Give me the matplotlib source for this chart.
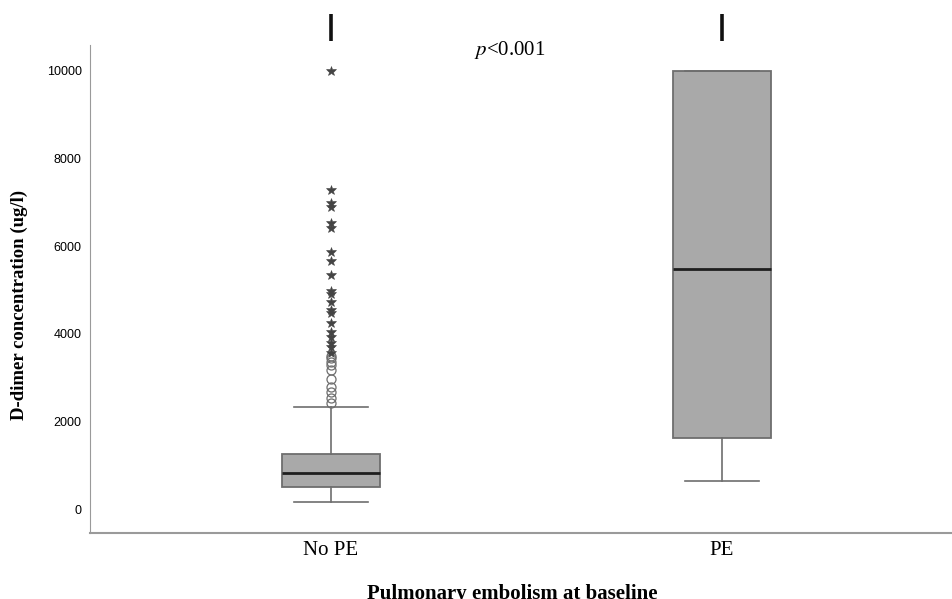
import matplotlib.pyplot as plt

plt.rcParams["mathtext.fontset"] = "stix"

# box summary (ug/l)
groups = ["No PE", "PE"]
q1 = [500, 1620]
med = [820, 5480]
q3 = [1255, 10000]
whislo = [160, 640]
whishi = [2330, 10000]

# No PE outliers: circles (mild) and stars (extreme)
mild = [3490, 3440, 3365, 3290, 3175, 2960, 2795, 2680, 2530, 2430]
extreme = [10000, 7280, 6980, 6900, 6540, 6410, 5860, 5670, 5340, 4985, 4910,
           4735, 4545, 4470, 4240, 4050, 3935, 3780, 3705, 3555]

serif = ["Liberation Serif", "DejaVu Serif"]
narrow = ["Liberation Sans Narrow", "Liberation Sans", "DejaVu Sans"]

fig = plt.figure(figsize=(9.52, 5.99), dpi=100)
ax = fig.add_axes([0.0945, 0.110, 0.9055, 0.815])

stats = []
for i in range(len(groups)):
    stats.append({"q1": q1[i], "med": med[i], "q3": q3[i],
                  "whislo": whislo[i], "whishi": whishi[i], "fliers": []})

ax.bxp(stats, positions=[0, 1], widths=0.25, patch_artist=True,
       showfliers=False,
       boxprops=dict(facecolor="#a9a9a9", edgecolor="#6e6e6e", linewidth=1.3),
       medianprops=dict(color="#1e1e1e", linewidth=2),
       whiskerprops=dict(color="#6e6e6e", linewidth=1.2),
       capprops=dict(color="#6e6e6e", linewidth=1.2),
       capwidths=0.19)

ax.plot([0] * len(mild), mild, linestyle="none", marker="o", markersize=6.5,
        markerfacecolor="none", markeredgecolor="#6e6e6e", markeredgewidth=0.9)
ax.plot([0] * len(extreme), extreme, linestyle="none", marker="*", markersize=7,
        color="#444444", markeredgewidth=0.4)

# significance bracket legs sticking out above the plot
for x in [0, 1]:
    ax.plot([x, x], [10685, 11300], color="#111111", linewidth=2.6,
            clip_on=False, solid_capstyle="butt")
ax.text(0.458, 10480, r"$p$<0.001", ha="center", va="center",
        fontsize=15, family=serif)

ax.set_xlim(-0.616, 1.588)
ax.set_ylim(-548, 10594)
ax.set_xticks([0, 1])
ax.set_xticklabels(groups, family=serif, fontsize=15)
ax.set_yticks([0, 2000, 4000, 6000, 8000, 10000])
ax.set_yticklabels(["0", "2000", "4000", "6000", "8000", "10000"],
                   family=narrow, fontsize=9)
ax.tick_params(axis="y", length=0, pad=6)
ax.tick_params(axis="x", length=0, pad=6)

for s in ["top", "right"]:
    ax.spines[s].set_visible(False)
ax.spines["left"].set_color("#9a9a9a")
ax.spines["bottom"].set_color("#9a9a9a")
ax.spines["bottom"].set_linewidth(1.5)

ax.set_ylabel("D-dimer concentration (ug/l)", family=serif, fontsize=13.5,
              fontweight="bold")
ax.yaxis.set_label_coords(-0.072, 0.467)
ax.set_xlabel("Pulmonary embolism at baseline", family=serif, fontsize=15,
              fontweight="bold")
ax.xaxis.set_label_coords(0.49, -0.105)

fig.savefig("out.png", dpi=100)
